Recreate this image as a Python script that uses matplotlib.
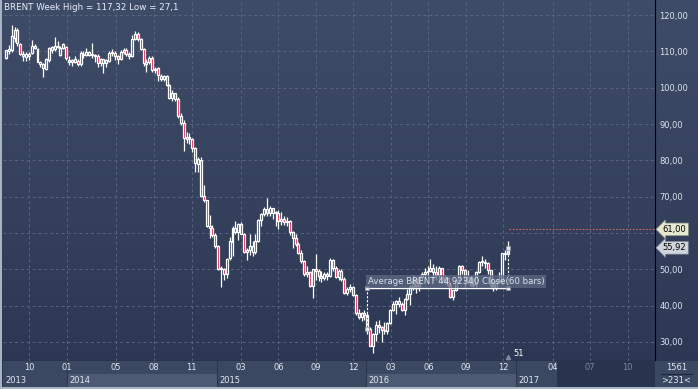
import numpy as np
import pandas as pd
import matplotlib
matplotlib.use('Agg')
import matplotlib.pyplot as plt
import matplotlib.dates as mdates
import matplotlib.transforms as mtransforms
from matplotlib.colors import LinearSegmentedColormap
from matplotlib.patches import Rectangle

# weekly Brent bars, first week starting 2013-08-05
first_week = '2013-08-05'
opens = [108.2, 110.0, 110.4, 113.6, 115.9, 112.0, 109.2, 108.4, 109.2, 109.6,
         111.6, 110.7, 106.4, 106.4, 105.2, 107.6, 110.4, 110.6, 111.6, 109.0,
         111.0, 111.3, 107.2, 107.0, 107.8, 107.4, 106.4, 109.4, 109.0, 109.8,
         109.0, 108.9, 108.6, 106.9, 107.8, 106.7, 107.3, 109.5, 109.6, 108.6,
         108.0, 109.8, 110.5, 109.2, 108.6, 113.4, 114.8, 113.3, 110.6, 106.6,
         107.2, 108.3, 104.8, 105.3, 103.2, 102.3, 103.2, 100.8, 97.1, 98.4,
         97.0, 92.3, 90.2, 85.8, 86.4, 85.9, 83.3, 79.0, 80.0, 70.2,
         69.0, 61.9, 61.4, 59.4, 56.4, 50.1, 50.0, 48.6, 53.0, 57.4,
         61.5, 60.2, 62.6, 59.7, 54.7, 55.3, 56.4, 54.9, 57.9, 63.5,
         65.3, 66.5, 65.4, 66.8, 65.4, 65.6, 63.3, 63.9, 63.0, 63.3,
         60.3, 58.7, 57.1, 54.6, 52.2, 48.6, 49.2, 45.5, 50.1, 49.6,
         48.1, 47.5, 48.6, 48.1, 52.7, 50.5, 48.0, 49.6, 47.4, 43.6,
         44.7, 45.0, 43.0, 37.9, 36.9, 37.9, 37.3, 33.6, 28.9, 32.2,
         34.7, 34.1, 33.4, 33.0, 35.1, 38.7, 40.4, 41.2, 40.4, 38.7,
         41.9, 43.1, 45.1, 47.4, 45.4, 48.0, 48.7, 49.3, 49.6, 50.5,
         49.2, 48.4, 50.4, 46.8, 47.6, 45.7, 42.5, 44.3, 47.0, 50.9,
         49.9, 46.8, 48.0, 45.8, 45.9, 49.2, 51.9, 52.0, 51.8, 49.7,
         45.6, 44.8, 46.9, 47.2, 54.5, 54.3]
highs = [110.5, 111.8, 117.32, 116.6, 116.4, 112.4, 110.0, 109.8, 109.8, 113.0,
         112.0, 111.0, 107.4, 106.8, 108.2, 111.2, 111.6, 114.0, 112.8, 111.4,
         112.4, 111.6, 108.6, 108.0, 108.6, 108.0, 110.0, 110.0, 110.8, 110.2,
         112.4, 109.4, 109.2, 108.2, 108.0, 108.0, 110.0, 110.6, 110.0, 109.0,
         110.4, 110.8, 110.8, 109.8, 114.6, 115.7, 115.2, 113.6, 110.8, 108.0,
         108.8, 108.6, 105.6, 105.6, 103.8, 103.6, 103.4, 101.0, 99.4, 98.6,
         97.4, 93.0, 91.0, 87.8, 87.4, 86.2, 83.6, 81.0, 80.8, 73.2,
         69.2, 65.0, 62.2, 60.0, 56.8, 50.8, 50.4, 53.2, 59.0, 61.8,
         63.3, 62.8, 63.0, 60.0, 56.0, 59.7, 57.8, 59.8, 63.8, 65.5,
         67.1, 69.6, 67.4, 67.0, 66.0, 66.2, 65.9, 64.8, 64.3, 63.6,
         60.6, 59.8, 57.6, 55.2, 52.6, 50.9, 49.6, 50.2, 54.3, 50.0,
         49.6, 49.3, 49.4, 53.1, 52.8, 50.9, 50.0, 50.0, 47.9, 45.0,
         46.0, 45.3, 43.2, 39.2, 38.2, 38.9, 38.0, 34.0, 32.4, 35.8,
         36.0, 34.3, 35.6, 35.4, 39.0, 41.2, 41.6, 42.5, 41.1, 42.1,
         44.7, 45.8, 48.5, 47.6, 48.1, 49.4, 50.5, 50.9, 52.9, 51.4,
         51.0, 50.8, 50.5, 48.4, 47.8, 45.8, 44.4, 47.1, 51.2, 51.2,
         50.2, 49.9, 48.1, 47.5, 49.6, 52.4, 53.7, 52.8, 52.0, 49.8,
         46.6, 47.0, 49.2, 54.5, 55.4, 57.9]
lows = [107.8, 109.2, 109.8, 112.6, 111.6, 108.9, 107.3, 107.4, 107.6, 109.2,
        110.6, 107.0, 105.8, 103.0, 104.8, 107.0, 109.6, 110.0, 111.0, 108.8,
        110.6, 107.6, 106.2, 106.0, 106.8, 106.0, 106.0, 108.2, 108.6, 108.8,
        108.2, 107.2, 105.6, 106.0, 104.0, 105.8, 107.0, 108.8, 107.6, 106.6,
        107.6, 109.4, 108.6, 107.8, 108.4, 113.0, 112.8, 110.4, 106.0, 104.2,
        106.6, 104.4, 104.0, 101.7, 101.9, 101.8, 100.4, 96.8, 96.2, 96.4,
        91.6, 89.8, 82.6, 84.8, 84.6, 82.2, 76.8, 76.8, 70.0, 68.6,
        61.6, 58.5, 59.0, 55.8, 49.7, 45.2, 47.0, 47.6, 52.6, 53.8,
        59.8, 58.2, 59.6, 54.6, 52.5, 54.0, 53.6, 54.2, 57.4, 61.8,
        64.6, 64.6, 64.7, 63.8, 61.9, 61.2, 62.1, 62.3, 62.0, 59.4,
        55.9, 56.3, 54.2, 51.8, 48.2, 47.8, 45.1, 42.2, 47.2, 46.7,
        46.6, 47.0, 47.1, 48.0, 49.6, 47.6, 47.1, 46.9, 43.3, 42.9,
        43.8, 42.6, 37.5, 36.2, 35.9, 36.1, 32.2, 28.8, 27.1, 30.4,
        32.4, 30.0, 32.1, 32.1, 35.0, 38.4, 37.6, 39.7, 38.5, 37.3,
        41.6, 40.1, 44.4, 43.5, 44.1, 47.0, 47.8, 48.0, 49.2, 46.7,
        47.0, 46.8, 46.4, 46.1, 45.4, 42.1, 41.5, 43.9, 46.4, 48.6,
        45.1, 45.9, 45.5, 45.1, 45.0, 49.1, 51.0, 50.5, 48.7, 45.2,
        43.9, 44.4, 46.4, 45.9, 52.5, 54.3]
closes = [110.3, 110.6, 114.2, 115.9, 112.3, 109.3, 108.6, 109.3, 108.6, 111.6,
          110.9, 107.2, 107.0, 105.3, 107.8, 110.8, 111.2, 111.6, 111.3, 111.0,
          112.0, 108.2, 107.4, 107.6, 107.0, 106.4, 109.6, 109.1, 109.9, 109.1,
          108.9, 108.6, 106.9, 107.8, 106.7, 107.5, 109.5, 109.6, 108.6, 108.0,
          109.8, 110.5, 109.4, 108.6, 113.4, 114.8, 113.3, 110.6, 106.7, 107.2,
          108.3, 104.8, 105.0, 103.4, 102.4, 103.2, 100.8, 97.1, 98.4, 97.0,
          92.3, 90.2, 86.2, 86.4, 85.9, 83.4, 79.4, 80.4, 70.2, 69.1,
          61.9, 61.4, 59.5, 56.4, 50.1, 50.2, 48.8, 52.9, 57.8, 61.5,
          60.2, 62.6, 59.7, 54.7, 55.3, 56.4, 54.9, 57.9, 63.5, 65.3,
          66.5, 65.4, 66.8, 65.4, 65.6, 63.3, 63.9, 63.0, 63.3, 60.3,
          58.7, 57.1, 54.6, 52.2, 48.6, 49.2, 45.5, 50.1, 49.6, 48.1,
          47.5, 48.6, 48.1, 52.7, 50.5, 48.0, 49.6, 47.4, 43.6, 44.7,
          45.0, 43.0, 37.9, 36.9, 37.9, 37.3, 33.6, 28.9, 32.2, 34.7,
          34.1, 33.4, 33.0, 35.1, 38.7, 40.4, 41.2, 40.4, 38.7, 41.9,
          43.1, 45.1, 47.4, 45.4, 48.0, 48.7, 49.3, 49.6, 50.5, 49.2,
          48.4, 50.4, 46.8, 47.6, 45.7, 42.5, 44.3, 47.0, 50.9, 49.9,
          46.8, 48.0, 45.8, 45.9, 49.2, 51.9, 52.0, 51.8, 49.7, 45.6,
          44.8, 46.9, 47.2, 54.5, 54.3, 55.92]

price_levels = [30, 40, 50, 60, 70, 80, 90, 100, 110, 120]
month_dates = ['2013-10-01', '2014-01-01', '2014-05-01', '2014-08-01', '2014-11-01',
               '2015-03-01', '2015-06-01', '2015-09-01', '2015-12-01',
               '2016-03-01', '2016-06-01', '2016-09-01', '2016-12-01',
               '2017-04-01', '2017-07-01', '2017-10-01']
month_labels = ['10', '01', '05', '08', '11', '03', '06', '09', '12',
                '03', '06', '09', '12', '04', '07', '10']
years = [2013, 2014, 2015, 2016, 2017]
avg_value = 44.92340
avg_start = 126          # first bar of the average
alert_level = 61.00
title = 'BRENT Week High = 117,32 Low = 27,1'

W, H = 698, 389
fig = plt.figure(figsize=(W / 100, H / 100), dpi=100)
fig.patch.set_facecolor('#aab3c2')


def box(x0, y0, x1, y1):
    # pixel box (top-left origin) -> figure fraction
    return [x0 / W, 1 - y1 / H, (x1 - x0) / W, (y1 - y0) / H]


def fmt(v):
    return f'{v:.2f}'.replace('.', ',')


# background gradient
bg = fig.add_axes(box(2, 0, 698, 387))
bg.axis('off')
cmap = LinearSegmentedColormap.from_list('bg', ['#3f4c68', '#2b3652'])
bg.imshow(np.linspace(0, 1, 256)[:, None], aspect='auto', cmap=cmap,
          extent=[0, 1, 0, 1])
bg.set_xlim(0, 1)
bg.set_ylim(0, 1)

# x scale: dates, ~0.41 px per day
jan14 = mdates.date2num(pd.Timestamp('2014-01-01'))
px_day = (516 - 67) / 1096
x_left = jan14 - (67 - 3) / px_day
x_right = jan14 + (655 - 67) / px_day

ax = fig.add_axes(box(3, 0, 655, 361))
ax.set_facecolor('none')
ax.set_xlim(x_left, x_right)
ax.set_ylim(30 - 19 / 3.633, 120 + 15 / 3.633)

for s in ['left', 'top']:
    ax.spines[s].set_visible(False)
ax.spines['right'].set_color('black')
ax.spines['bottom'].set_color('black')

ticks_x = mdates.date2num(pd.to_datetime(month_dates))
ax.set_xticks(ticks_x)
ax.set_xticklabels([])
ax.tick_params(axis='x', length=0)
ax.yaxis.tick_right()
ax.set_yticks(price_levels)
# the 60 label sits under the alert flag
ax.set_yticklabels(['' if v == 60 else fmt(v) for v in price_levels])
ax.tick_params(axis='y', length=0, pad=3, labelsize=6, labelcolor='#dde4ef')
ax.grid(True, ls=(0, (3, 3)), color='#58657e', lw=0.7)
ax.set_axisbelow(True)

# candles
dates = pd.date_range(first_week, periods=len(closes), freq='7D')
xs = mdates.date2num(dates)
o = np.array(opens)
h = np.array(highs)
l = np.array(lows)
c = np.array(closes)
up = c >= o
top = np.maximum(o, c)
bot = np.minimum(o, c)
ht = np.maximum(top - bot, 0.3)
ax.vlines(xs, top, h, color='white', lw=0.9, zorder=3)
ax.vlines(xs, l, bot, color='white', lw=0.9, zorder=3)
ax.bar(xs[up], ht[up], bottom=bot[up], width=4.8, facecolor='none',
       edgecolor='white', lw=0.9, zorder=4)
ax.bar(xs[~up], ht[~up], bottom=bot[~up], width=4.8, facecolor='#e3103c',
       edgecolor='white', lw=0.9, zorder=4)

# average tool
xa, xb = xs[avg_start], xs[-1]
ax.plot([xa, xb], [avg_value, avg_value], color='white', lw=1, zorder=5)
ax.plot([xa, xa], [c[avg_start], avg_value], color='white', lw=0.8,
        ls=(0, (2, 1.5)), zorder=5)
ax.plot([xb, xb], [avg_value, c[-1]], color='white', lw=0.8,
        ls=(0, (2, 1.5)), zorder=5)
ax.plot([xa, xa, xb, xb], [c[avg_start], avg_value, avg_value, c[-1]],
        ls='none', marker='s', ms=3, mfc='#e8e8e8', mec='#9099a8', mew=0.5,
        zorder=6)
ax.text(xa + 2, avg_value + 0.5,
        f'Average BRENT {avg_value:.5f}'.replace('.', ',') + ' Close(60 bars)',
        fontsize=6.2, color='#dae1ec', va='bottom', ha='left', zorder=6,
        bbox=dict(fc='#5e6a83', ec='none', alpha=0.75, pad=1.2))

# alert line and price flags
ax.plot([xb + 2, x_right], [alert_level, alert_level], color='#d46a6a',
        lw=0.8, ls=(0, (1.5, 1.5)), zorder=5)
tr = mtransforms.blended_transform_factory(ax.transAxes, ax.transData)
ax.text(1.012, alert_level, fmt(alert_level),
        transform=tr, fontsize=6, color='black', va='center', ha='left',
        clip_on=False, zorder=7,
        bbox=dict(boxstyle='larrow,pad=0.22', fc='#e6e8d0', ec='#8a8c80', lw=0.5))
ax.text(1.012, c[-1], fmt(c[-1]),
        transform=tr, fontsize=6, color='black', va='center', ha='left',
        clip_on=False, zorder=7,
        bbox=dict(boxstyle='larrow,pad=0.22', fc='#cfd4dd', ec='#80889a', lw=0.5))

ax.plot([xb], [ax.get_ylim()[0] + 1.0], marker='^', ms=3, color='#7d889c',
        clip_on=False, zorder=6)
fig.text(519 / W, 1 - 354 / H, '51', fontsize=6, color='white',
         ha='center', va='center')

fig.text(4 / W, 1 - 7 / H, title, fontsize=6.3, color='#e8eef8',
         ha='left', va='center')

# date band
axb = fig.add_axes(box(3, 361, 655, 387))
axb.set_xlim(x_left, x_right)
axb.set_ylim(0, 26)
axb.axis('off')
axb.add_patch(Rectangle((x_left, 0), x_right - x_left, 26, fc='#3b4862',
                        ec='none'))
for y in years:
    y0 = mdates.date2num(pd.Timestamp(f'{y}-01-01'))
    y1 = mdates.date2num(pd.Timestamp(f'{y + 1}-01-01'))
    if y % 2 == 0:
        axb.add_patch(Rectangle((y0, 0), y1 - y0, 13.5, fc='#4d5a73', ec='none'))
    if y0 > x_left:
        axb.plot([y0, y0], [0, 26], color='#2c364c', lw=0.8)
    axb.text(max(y0, x_left) + 2.5 / px_day, 6.5, str(y), fontsize=6,
             color='#e4e9f2', ha='left', va='center')
future = mdates.date2num(pd.Timestamp('2017-04-12'))
axb.add_patch(Rectangle((future, 0), x_right - future, 26, fc='#28334e',
                        ec='none', zorder=2))
for tx, lab in zip(ticks_x, month_labels):
    col = '#e4e9f2' if tx < future else '#7c879b'
    axb.text(tx, 19.5, lab, fontsize=6, color=col, ha='center', va='center',
             zorder=3)

# corner box
axc = fig.add_axes(box(655, 361, 698, 387))
axc.axis('off')
axc.set_xlim(0, 1)
axc.set_ylim(0, 1)
axc.add_patch(Rectangle((0, 0), 1, 1, fc='#3b4862', ec='none'))
axc.plot([0.15, 0.85], [0.5, 0.5], color='#1e2638', lw=0.8)
axc.text(0.5, 0.76, '1561', fontsize=6, color='#e4e9f2', ha='center', va='center')
axc.text(0.5, 0.25, '>231<', fontsize=6, color='#e4e9f2', ha='center', va='center')

fig.savefig('out.png', dpi=100, facecolor=fig.get_facecolor())
